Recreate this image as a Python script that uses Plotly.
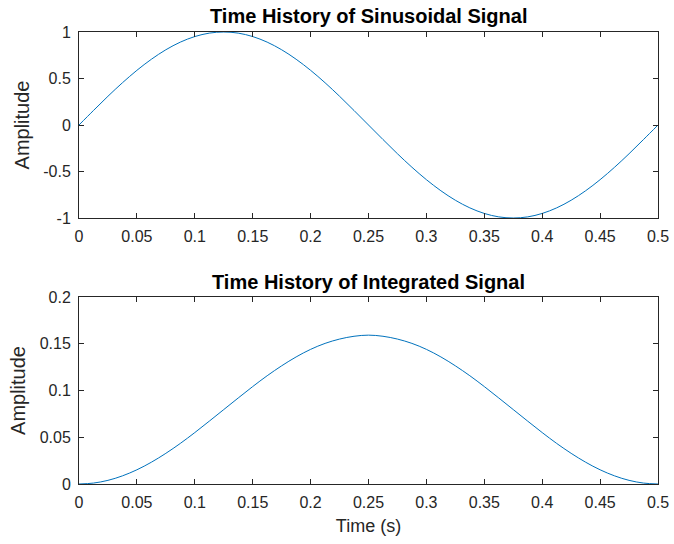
import plotly.graph_objects as go

time_s = [0.0, 0.0125, 0.025, 0.0375, 0.05, 0.0625, 0.075, 0.0875, 0.1, 0.1125,
          0.125, 0.1375, 0.15, 0.1625, 0.175, 0.1875, 0.2, 0.2125, 0.225, 0.2375,
          0.25, 0.2625, 0.275, 0.2875, 0.3, 0.3125, 0.325, 0.3375, 0.35, 0.3625,
          0.375, 0.3875, 0.4, 0.4125, 0.425, 0.4375, 0.45, 0.4625, 0.475, 0.4875, 0.5]

sinusoid = [0.0, 0.156, 0.309, 0.454, 0.588, 0.707, 0.809, 0.891, 0.951, 0.988,
            1.0, 0.988, 0.951, 0.891, 0.809, 0.707, 0.588, 0.454, 0.309, 0.156,
            0.0, -0.156, -0.309, -0.454, -0.588, -0.707, -0.809, -0.891, -0.951, -0.988,
            -1.0, -0.988, -0.951, -0.891, -0.809, -0.707, -0.588, -0.454, -0.309, -0.156, 0.0]

integrated = [0.0, 0.001, 0.0039, 0.0087, 0.0152, 0.0233, 0.0328, 0.0434, 0.055, 0.0672,
              0.0796, 0.092, 0.1042, 0.1158, 0.1264, 0.1359, 0.144, 0.1504, 0.155, 0.158,
              0.1592, 0.158, 0.155, 0.1504, 0.144, 0.1359, 0.1264, 0.1158, 0.1042, 0.092,
              0.0796, 0.0672, 0.055, 0.0434, 0.0328, 0.0233, 0.0152, 0.0087, 0.0039, 0.001, 0.0]

x_ticks = [0, 0.05, 0.1, 0.15, 0.2, 0.25, 0.3, 0.35, 0.4, 0.45, 0.5]
x_ticktext = ["0", "0.05", "0.1", "0.15", "0.2", "0.25", "0.3", "0.35", "0.4", "0.45", "0.5"]
y1_ticks = [-1, -0.5, 0, 0.5, 1]
y1_ticktext = ["-1", "-0.5", "0", "0.5", "1"]
y2_ticks = [0, 0.05, 0.1, 0.15, 0.2]
y2_ticktext = ["0", "0.05", "0.1", "0.15", "0.2"]

FONT = "Liberation Sans, Arial, sans-serif"
LINE = "#0072BD"
AX = "#262626"
TICK_SIZE = 16
YLABEL_SIZE = 20
XLABEL_SIZE = 18
TITLE_SIZE = 20

fig = go.Figure()
fig.add_trace(go.Scatter(x=time_s, y=sinusoid, mode="lines", line=dict(color=LINE, width=1, shape="spline"),
                         xaxis="x", yaxis="y", showlegend=False))
fig.add_trace(go.Scatter(x=time_s, y=integrated, mode="lines", line=dict(color=LINE, width=1, shape="spline"),
                         xaxis="x2", yaxis="y2", showlegend=False))

W, H = 674, 544
left, right, top, bot = 79, 658, 32, 484
ph = bot - top
def py(p):
    return (bot - p) / ph

common_axis = dict(showline=True, linecolor=AX, linewidth=1, mirror="ticks", ticks="inside",
                   ticklen=5, tickcolor=AX, tickwidth=1, showgrid=False, zeroline=False,
                   automargin=False, ticklabeloverflow="allow",
                   tickfont=dict(family=FONT, size=TICK_SIZE, color=AX))

fig.update_layout(
    width=W, height=H,
    margin=dict(l=left, r=W - right, t=top, b=H - bot),
    paper_bgcolor="white", plot_bgcolor="white",
    font=dict(family=FONT, color=AX),
    xaxis=dict(domain=[0, 1], range=[0, 0.5], tickvals=x_ticks, ticktext=x_ticktext,
               anchor="y", ticklabelstandoff=4, **common_axis),
    yaxis=dict(domain=[py(218), 1], range=[-1, 1], tickvals=y1_ticks, ticktext=y1_ticktext,
               anchor="x", ticklabelstandoff=4,
               title=dict(text="Amplitude", font=dict(family=FONT, size=YLABEL_SIZE, color=AX), standoff=8),
               **common_axis),
    xaxis2=dict(domain=[0, 1], range=[0, 0.5], tickvals=x_ticks, ticktext=x_ticktext,
                anchor="y2", ticklabelstandoff=4,
                title=dict(text="Time (s)", font=dict(family=FONT, size=XLABEL_SIZE, color=AX), standoff=9),
                **common_axis),
    yaxis2=dict(domain=[0, py(297)], range=[0, 0.2], tickvals=y2_ticks, ticktext=y2_ticktext,
                anchor="x2", ticklabelstandoff=4,
                title=dict(text="Amplitude", font=dict(family=FONT, size=YLABEL_SIZE, color=AX), standoff=8),
                **common_axis),
    annotations=[
        dict(text="<b>Time History of Sinusoidal Signal</b>", x=0.5, xref="paper", y=py(16), yref="paper",
             showarrow=False, xanchor="center", yanchor="middle", font=dict(family=FONT, size=TITLE_SIZE, color="black")),
        dict(text="<b>Time History of Integrated Signal</b>", x=0.5, xref="paper", y=py(282), yref="paper",
             showarrow=False, xanchor="center", yanchor="middle", font=dict(family=FONT, size=TITLE_SIZE, color="black")),
    ],
)

fig.write_html("out.html", config={"displayModeBar": False},
               post_script="document.body.style.margin='0';document.body.style.overflow='hidden';")
